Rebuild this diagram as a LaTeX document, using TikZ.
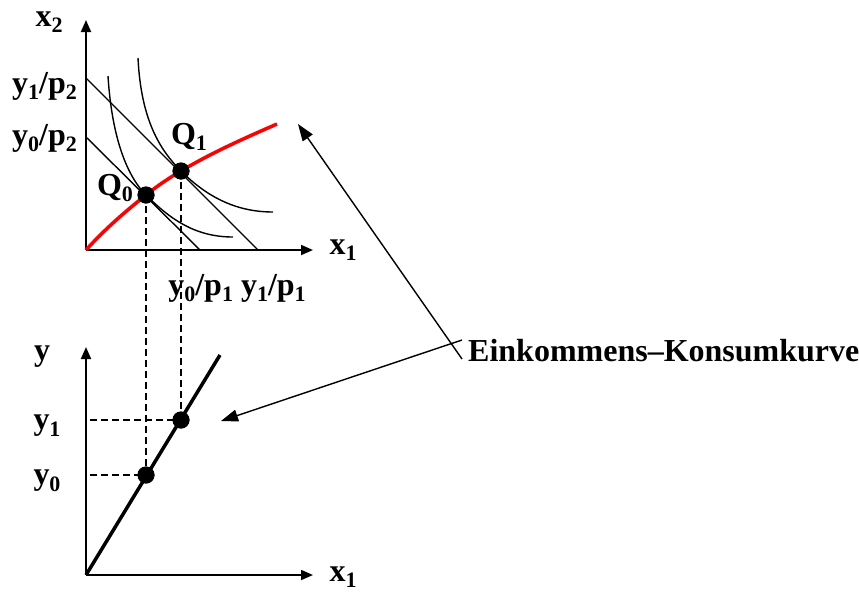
\documentclass[tikz,border=0pt]{standalone}
\usepackage{fontspec}
\setmainfont{Liberation Serif}
\usetikzlibrary{positioning,arrows.meta,calc}
\definecolor{ekRed}{RGB}{255,0,0}
\newcommand{\lowidx}[1]{\raisebox{-0.2em}{\fontsize{22}{22}\selectfont #1}}
\tikzset{
  lbl/.style={font=\fontsize{32}{32}\selectfont\bfseries, inner sep=0pt},
  biglbl/.style={font=\fontsize{32}{32}\selectfont\bfseries, inner sep=0pt},
  axis/.style={-{Triangle[length=12pt,width=10pt]}, line width=1.8pt},
  thinln/.style={line width=1.4pt},
  guide/.style={line width=1.4pt, dash pattern=on 7pt off 4pt},
  dot/.style={circle, fill=black, inner sep=0pt, minimum size=17pt},
  pointer/.style={-{Triangle[length=17pt,width=12pt]}, line width=1.4pt},
}
\begin{document}
\begin{tikzpicture}[x=1pt,y=-1pt]
  \useasboundingbox (0,0) rectangle (859,592);

  % upper diagram: x1 / x2
  \coordinate (O1) at (86,250);
  \coordinate (X2tip) at (86,20);
  \coordinate (X1tip) at (313,250);
  \draw[axis] (O1) -- (X2tip);
  \draw[axis] (O1) -- (X1tip);

  % budget lines
  \coordinate (B1a) at (86,78);
  \coordinate (B1b) at (258,250);
  \coordinate (B0a) at (86,137);
  \coordinate (B0b) at (200,250);
  \draw[thinln] (B0a) -- (B0b);
  \draw[thinln] (B1a) -- (B1b);

  % indifference curves
  \draw[thinln] (108,76) .. controls (112,140) and (128,177) .. (146,195)
                         .. controls (170,219) and (195,237) .. (233,237);
  \draw[thinln] (138,58) .. controls (141,120) and (160,150) .. (181,171)
                         .. controls (210,200) and (240,212) .. (273,212);

  % income expansion path
  \draw[ekRed, line width=3.5pt] (O1) .. controls (106,228) and (126,211) .. (146,195)
    .. controls (158,185.4) and (169,178) .. (181,171)
    .. controls (213,152) and (245,138) .. (277,124);
  \coordinate (Rend) at (298,124);

  \node[dot] (Q0) at (146,195) {};
  \node[dot] (Q1) at (181,171) {};

  % labels upper diagram
  \node[lbl] (lx2) at (49,22) {x\lowidx{2}};
  \node[lbl, anchor=east] (ly1p2) at (77,86) {y\lowidx{1}/p\lowidx{2}};
  \node[lbl, anchor=east] (ly0p2) at (77,138) {y\lowidx{0}/p\lowidx{2}};
  \node[lbl] (lq0) at (115,188) {Q\lowidx{0}};
  \node[lbl] (lq1) at (189,137) {Q\lowidx{1}};
  \node[lbl] (lx1a) at (343,250) {x\lowidx{1}};
  \node[lbl] (lp1) at (237,288) {y\lowidx{0}/p\lowidx{1} y\lowidx{1}/p\lowidx{1}};

  % lower diagram: x1 / y
  \coordinate (O2) at (86,575);
  \coordinate (Ytip) at (86,347);
  \coordinate (X1btip) at (313,575);
  \draw[axis] (O2) -- (Ytip);
  \draw[axis] (O2) -- (X1btip);
  \coordinate (Lend) at (220,355);
  \draw[line width=3.5pt] (O2) -- (Lend);

  \node[dot] (P0) at (146,475) {};
  \node[dot] (P1) at (181,420) {};
  \coordinate (H0) at (90,475);
  \coordinate (H1) at (90,420);

  % dashed guides
  \draw[guide] (Q0.center) -- (P0.center);
  \draw[guide] (Q1.center) -- (P1.center);
  \draw[guide] (H0) -- (P0.center);
  \draw[guide] (H1) -- (P1.center);
  \node[dot] at (Q0) {};
  \node[dot] at (Q1) {};
  \node[dot] at (P0) {};
  \node[dot] at (P1) {};

  % labels lower diagram
  \node[lbl] (ly) at (42,357) {y};
  \node[lbl] (ly1) at (47,426) {y\lowidx{1}};
  \node[lbl] (ly0) at (47,481) {y\lowidx{0}};
  \node[lbl] (lx1b) at (343,577) {x\lowidx{1}};

  % pointer label
  \node[biglbl, anchor=west] (ekk) at (468,351) {Einkommens–Konsumkurve};
  \coordinate (Ptip) at (221,421);
  \draw[pointer] ([yshift=-8pt]ekk.west) ++(-6,0) -- (Rend);
  \draw[pointer] ([yshift=11pt]ekk.west) ++(-6,0) -- (Ptip);
\end{tikzpicture}
\end{document}
